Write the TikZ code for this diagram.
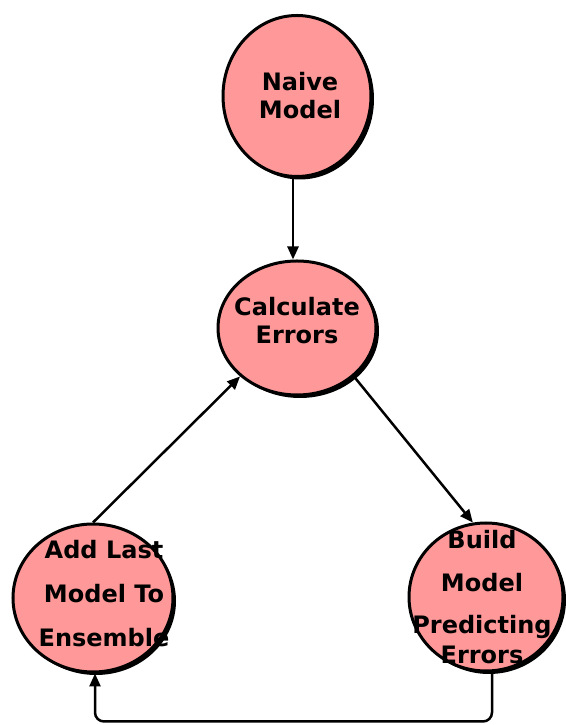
\documentclass[tikz,border=0pt]{standalone}
\usepackage{fontspec}
\setmainfont{DejaVu Sans}
\usetikzlibrary{shapes.geometric,shadows,arrows.meta}
\definecolor{bubblepink}{RGB}{255,153,153}
\tikzset{
  bubble/.style={ellipse,draw=black,line width=3pt,fill=bubblepink,inner sep=0pt,
    drop shadow={shadow xshift=3pt,shadow yshift=-3pt,opacity=1,fill=black}},
  bubbletext/.style={align=center,font=\bfseries\fontsize{24}{28}\selectfont},
  flow/.style={line width=2.5pt,-{Triangle[length=13pt,width=11pt]}}
}
\begin{document}
\begin{tikzpicture}[x=1pt,y=1pt]
\useasboundingbox (0,0) rectangle (565,725);
\node[bubble,minimum width=148pt,minimum height=161pt] (naive) at (297,629) {};
\node[bubble,minimum width=158pt,minimum height=134pt] (calc) at (297,397) {};
\node[bubble,minimum width=160pt,minimum height=148pt] (add) at (93,127) {};
\node[bubble,minimum width=154pt,minimum height=148pt] (build) at (486,128) {};
\node[bubbletext] (naivetxt) at ([xshift=3pt]naive) {Naive\\Model};
\node[bubbletext] (calctxt) at ([yshift=7pt]calc) {Calculate\\Errors};
\node[bubbletext,font=\bfseries\fontsize{24}{44}\selectfont] (addtxt) at ([xshift=11pt,yshift=4pt]add) {Add Last\\Model To\\Ensemble};
\node[bubbletext,font=\bfseries\fontsize{24}{28}\selectfont] (buildtxt) at ([xshift=-4pt]build) {Build\\[15pt]Model\\[14pt]Predicting\\[2pt]Errors};
\draw[flow] ([xshift=-4pt]naive.south) -- ([xshift=-4pt]calc.north);
\draw[flow] (add.north) -- (calc.south west);
\draw[flow] (calc.south east) -- (build.100);
\draw[flow,rounded corners=9pt] ([xshift=6pt]build.south) -- ++(0,-49) -| ([xshift=2pt]add.south);
\end{tikzpicture}
\end{document}
